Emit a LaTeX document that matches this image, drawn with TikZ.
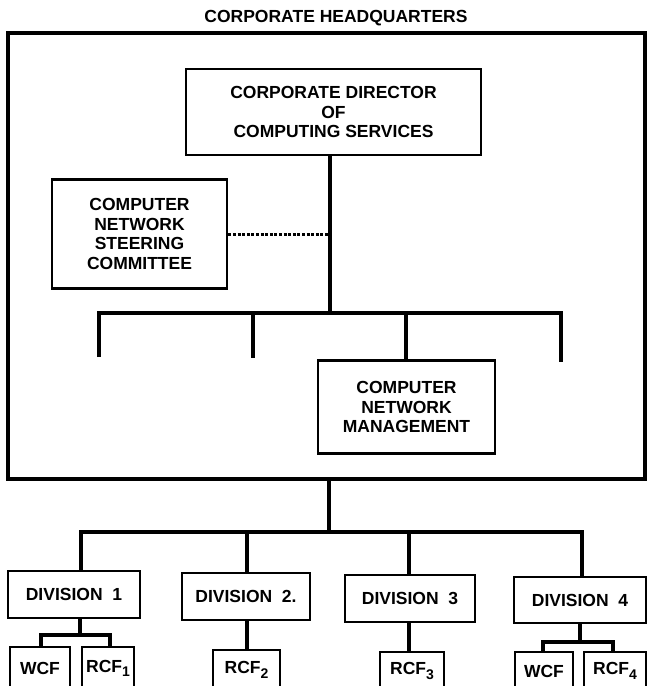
\documentclass[tikz,border=0pt]{standalone}
\usepackage{fontspec}
\setmainfont{Liberation Sans}
\newcommand{\sub}[1]{\raisebox{-0.5ex}{\fontsize{14}{14}\selectfont #1}}
\begin{document}
\begin{tikzpicture}[x=1pt,y=-1pt,
  box/.style={draw, line width=2.8pt, inner sep=0pt, align=center,
    font=\fontsize{17.5}{19.5}\selectfont\bfseries},
  frame/.style={draw, line width=3.8pt, inner sep=0pt},
  conn/.style={line width=4.6pt, line join=miter},
  dotconn/.style={line width=3pt, dash pattern=on 3pt off 1.6pt},
  ttl/.style={font=\fontsize{17.5}{20}\selectfont\bfseries, inner sep=0pt}]
\useasboundingbox (0,0) rectangle (647,686);

% headquarters frame and title
\node[frame, minimum width=637pt, minimum height=446pt] (hq) at (326.5,256) {};
\node[ttl] (title) at (336,18) {CORPORATE\ HEADQUARTERS};

% headquarters boxes
\node[box, minimum width=295pt, minimum height=86pt] (dir) at (333.5,112)
  {CORPORATE\ DIRECTOR\\OF\\COMPUTING\ SERVICES};
\node[box, minimum width=175pt, minimum height=109pt] (com) at (139.5,234)
  {COMPUTER\\NETWORK\\STEERING\\COMMITTEE};
\node[box, minimum width=177pt, minimum height=93pt] (cnm) at (406.5,407)
  {COMPUTER\\NETWORK\\MANAGEMENT};

% divisions
\node[box, minimum width=132pt, minimum height=47pt] (div1) at (74,594.5) {DIVISION\ \ 1};
\node[box, minimum width=128pt, minimum height=47pt] (div2) at (246,596.5) {DIVISION\ \ 2.};
\node[box, minimum width=130pt, minimum height=47pt] (div3) at (410,598.5) {DIVISION\ \ 3};
\node[box, minimum width=132pt, minimum height=46pt] (div4) at (580,600) {DIVISION\ \ 4};

% facilities
\node[box, minimum width=60pt, minimum height=43pt] (wcfa) at (40,668.5) {WCF};
\node[box, minimum width=52pt, minimum height=43pt] (rcfa) at (108,668.5) {RCF\sub{1}};
\node[box, minimum width=67pt, minimum height=40pt] (rcfb) at (246.5,670) {RCF\sub{2}};
\node[box, minimum width=64pt, minimum height=38pt] (rcfc) at (412,671) {RCF\sub{3}};
\node[box, minimum width=58pt, minimum height=38pt] (wcfd) at (544,671) {WCF};
\node[box, minimum width=62pt, minimum height=38pt] (rcfd) at (615,671) {RCF\sub{4}};

% upper bus inside headquarters
\coordinate (j0) at (330,313);
\coordinate (a1) at (99,357);
\coordinate (a2) at (253,358);
\coordinate (a3) at (406,313);
\coordinate (a4) at (561,362);
\draw[conn] (dir.south -| j0) -- (j0);
\draw[conn] (a1) -- (a1 |- j0) -- (a4 |- j0) -- (a4);
\draw[conn] (a2 |- j0) -- (a2);
\draw[conn] (a3) -- (a3 |- cnm.north);
\draw[dotconn] (com.east) -- (com.east -| j0);

% lower bus
\coordinate (k0) at (329,532);
\coordinate (b1) at (81,532);
\coordinate (b2) at (247,532);
\coordinate (b3) at (409,532);
\coordinate (b4) at (582,532);
\draw[conn] (hq.south -| k0) -- (k0);
\draw[conn] (b1 |- div1.north) -- (b1) -- (b4) -- (b4 |- div4.north);
\draw[conn] (b2) -- (b2 |- div2.north);
\draw[conn] (b3) -- (b3 |- div3.north);

% division 1 facilities
\coordinate (c1) at (80,635);
\draw[conn] (div1.south -| c1) -- (c1);
\draw[conn] (wcfa.north -| 41,0) -- (41,635) -- (110,635) -- (rcfa.north -| 110,0);
% division 2 and 3
\draw[conn] (div2.south -| b2) -- (rcfb.north -| b2);
\draw[conn] (div3.south -| b3) -- (rcfc.north -| b3);
% division 4 facilities
\coordinate (c4) at (580,642);
\draw[conn] (div4.south -| c4) -- (c4);
\draw[conn] (wcfd.north -| 543,0) -- (543,642) -- (613,642) -- (rcfd.north -| 613,0);
\end{tikzpicture}
\end{document}
